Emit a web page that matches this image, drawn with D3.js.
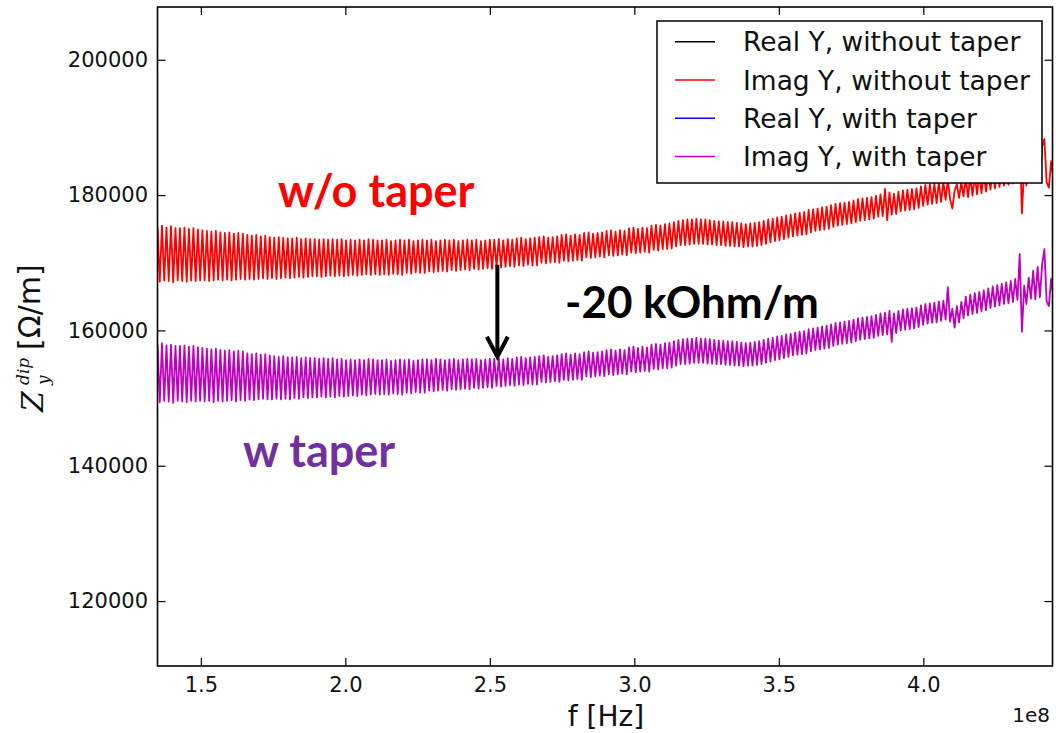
<!DOCTYPE html>
<html>
<head>
<meta charset="utf-8">
<script src="https://cdn.jsdelivr.net/npm/d3@7"></script>
<style>
  body { margin: 0; background: #fff; }
  svg { display: block; }
</style>
</head>
<body>
<svg id="chart" width="1056" height="733"></svg>
<script>
// ---- data -------------------------------------------------------------
// frequency sweep (Hz), evenly sampled
const fStart = 1.35e8;
const fEnd = 4.45e8;

// Imaginary part of the dipolar vertical impedance, in kOhm/m
const imagNoTaper = [
  175.3,167.2,175.5,167.4,175.2,167.3,175.4,167.1,175.1,167.4,
  175.1,167.3,175.2,167.2,175.0,167.4,175.1,167.3,174.9,167.4,
  174.8,167.4,174.7,167.3,174.6,167.4,174.7,167.5,174.5,167.4,
  174.4,167.5,174.5,167.4,174.3,167.5,174.4,167.6,174.3,167.5,
  174.1,167.6,174.0,167.5,174.1,167.6,173.9,167.7,174.0,167.6,
  173.8,167.7,173.7,167.6,173.8,167.7,173.7,167.8,173.6,167.7,
  173.6,167.8,173.7,167.9,173.5,167.8,173.6,167.9,173.5,168.0,
  173.5,168.0,173.4,167.9,173.5,168.0,173.4,168.1,173.5,168.0,
  173.4,168.1,173.5,168.0,173.3,168.1,173.4,168.2,173.3,168.1,
  173.4,168.2,173.3,168.3,173.5,168.2,173.4,168.3,173.3,168.2,
  173.3,168.3,173.4,168.2,173.2,168.4,173.3,168.3,173.4,168.2,
  173.3,168.5,173.4,168.4,173.2,168.6,173.3,168.5,173.4,168.5,
  173.3,168.7,173.4,168.6,173.2,168.7,173.3,168.8,173.4,168.7,
  173.3,168.9,173.4,168.8,173.2,168.9,173.3,169.0,173.4,168.9,
  173.3,169.1,173.4,169.0,173.2,169.1,173.3,169.2,173.4,169.1,
  173.4,169.4,173.5,169.3,173.3,169.4,173.5,169.5,173.4,169.4,
  173.6,169.6,173.7,169.5,173.5,169.7,173.6,169.6,173.7,169.6,
  173.8,170.0,173.9,169.9,173.7,170.0,173.8,170.1,173.9,170.0,
  174.1,170.3,174.2,170.2,174.0,170.3,174.2,170.4,174.1,170.3,
  174.4,170.8,174.5,170.7,174.3,170.8,174.4,170.9,174.5,170.8,
  174.7,171.1,174.8,171.0,174.6,171.1,174.8,171.2,174.7,171.1,
  175.1,171.5,175.2,171.4,175.0,171.5,175.2,171.6,175.1,171.5,
  175.5,171.9,175.6,171.8,175.5,172.0,175.7,172.0,175.8,172.1,
  176.0,172.4,176.2,172.6,176.3,172.6,176.4,172.7,176.4,172.8,
  176.5,172.8,176.4,172.8,176.4,172.7,176.3,172.7,176.2,172.6,
  176.1,172.6,176.1,172.5,176.0,172.5,176.0,172.4,175.9,172.4,
  175.8,172.3,175.7,172.4,175.8,172.4,175.9,172.5,176.0,172.6,
  176.2,172.8,176.4,173.0,176.5,173.2,176.7,173.3,176.8,173.5,
  177.0,173.7,177.1,173.9,177.3,174.0,177.4,174.1,177.5,174.2,
  177.8,174.5,177.9,174.7,178.0,174.8,178.2,174.9,178.3,175.0,
  178.5,175.3,178.7,175.5,178.8,175.6,178.9,175.7,179.0,175.8,
  179.2,176.0,179.4,176.2,179.5,176.3,179.6,176.4,179.7,176.5,
  179.9,176.8,180.1,176.9,180.9,176.3,180.4,177.1,180.2,177.2,
  180.5,177.6,180.7,177.7,180.8,177.8,180.9,177.9,181.0,178.1,
  181.3,178.4,181.5,178.6,181.6,178.7,181.7,178.8,181.9,179.0,
  182.0,179.3,182.3,179.4,178.0,180.6,181.6,179.6,181.9,179.8,
  182.5,179.7,182.8,179.9,183.0,180.1,183.2,180.3,183.4,180.5,
  183.7,180.8,184.0,181.0,184.2,181.2,184.4,181.4,184.6,181.5,
  184.8,181.7,185.1,182.0,188.6,177.3,184.1,181.4,185.3,182.2,
  186.2,182.1,186.8,182.4,187.2,188.3,181.9,181.1,185.0,182.6
];

const imagWithTaper = [
  157.9,149.4,158.1,149.6,157.8,149.5,157.9,149.3,157.7,149.6,
  157.7,149.5,157.8,149.4,157.6,149.6,157.7,149.5,157.5,149.6,
  157.4,149.5,157.3,149.6,157.2,149.4,157.3,149.6,157.1,149.5,
  157.0,149.6,157.1,149.7,156.9,149.5,157.0,149.7,156.9,149.6,
  156.6,149.8,156.5,149.7,156.6,149.8,156.4,149.9,156.5,149.8,
  156.3,149.8,156.2,149.9,156.1,149.8,156.2,149.9,156.0,149.8,
  156.0,150.0,156.1,149.9,155.9,150.1,156.0,150.0,155.9,150.1,
  155.9,150.1,155.8,150.2,155.9,150.1,155.8,150.2,155.9,150.1,
  155.7,150.3,155.8,150.2,155.6,150.3,155.7,150.4,155.6,150.3,
  155.7,150.5,155.6,150.4,155.8,150.5,155.7,150.6,155.6,150.5,
  155.6,150.6,155.7,150.5,155.5,150.7,155.6,150.6,155.7,150.5,
  155.6,150.8,155.7,150.7,155.5,150.9,155.6,150.8,155.7,150.8,
  155.7,151.1,155.6,151.0,155.8,151.1,155.7,151.2,155.6,151.1,
  155.7,151.3,155.8,151.2,155.6,151.3,155.7,151.4,155.8,151.3,
  155.7,151.5,155.8,151.4,155.6,151.5,155.7,151.6,155.8,151.5,
  155.8,151.8,155.9,151.7,155.7,151.8,155.9,151.9,155.8,151.8,
  156.0,152.0,156.1,151.9,155.9,152.1,156.0,152.0,156.1,152.0,
  156.2,152.4,156.3,152.3,156.1,152.4,156.2,152.5,156.3,152.4,
  156.5,152.7,156.6,152.6,156.4,152.7,156.6,152.8,156.5,152.7,
  156.8,153.2,156.9,153.1,156.7,153.2,156.8,153.3,156.9,153.2,
  157.1,153.5,157.2,153.4,157.0,153.5,157.2,153.6,157.1,153.5,
  157.5,153.9,157.6,153.8,157.4,153.9,157.6,154.0,157.5,153.9,
  157.9,154.3,158.0,154.2,157.9,154.4,158.1,154.4,158.2,154.5,
  158.4,154.8,158.6,155.0,158.7,155.0,158.8,155.1,158.8,155.2,
  158.9,155.2,158.8,155.2,158.8,155.1,158.7,155.1,158.6,155.0,
  158.5,155.0,158.5,154.9,158.4,154.9,158.4,154.8,158.3,154.8,
  158.2,154.7,158.1,154.8,158.2,154.8,158.3,154.9,158.4,155.0,
  158.6,155.2,158.8,155.4,158.9,155.6,159.1,155.7,159.2,155.9,
  159.4,156.1,159.5,156.3,159.7,156.4,159.8,156.5,159.9,156.6,
  160.2,156.9,160.3,157.1,160.4,157.2,160.6,157.3,160.7,157.4,
  160.9,157.7,161.1,157.9,161.2,158.0,161.3,158.1,161.4,158.2,
  161.6,158.4,161.8,158.6,161.9,158.7,162.0,158.8,162.1,158.9,
  162.3,159.2,162.5,159.3,162.6,159.4,162.9,158.3,162.5,159.6,
  162.9,160.0,163.1,160.1,163.2,160.2,163.3,160.3,163.4,160.5,
  163.7,160.8,163.9,161.0,164.0,161.1,164.1,161.2,164.3,161.4,
  164.4,161.6,166.4,161.3,163.2,160.4,163.6,161.2,164.2,161.8,
  165.0,162.2,165.3,162.4,165.5,162.6,165.7,162.8,165.9,163.0,
  166.2,163.3,166.5,163.5,166.7,163.7,166.9,163.9,167.1,164.0,
  167.3,164.2,167.6,164.5,171.3,159.8,166.6,163.9,167.8,164.7,
  168.8,164.6,169.4,164.9,169.8,172.0,164.3,163.6,167.6,165.0
];

const xTicks = [1.5e8, 2.0e8, 2.5e8, 3.0e8, 3.5e8, 4.0e8];
const yTicks = [120000, 140000, 160000, 180000, 200000];
const xDomain = [1.35e8, 4.447e8];
const yDomain = [110400, 207800];

const legendLabels = [
  "Real Y, without taper",
  "Imag Y, without taper",
  "Real Y, with taper",
  "Imag Y, with taper"
];
const legendColors = ["#000000", "#ff0000", "#0000ff", "#bf00bf"];

// annotation: shift between the two curves
const shiftFreq = 2.526e8;
const shiftFrom = 169700;
const shiftTo = 156100;

// ---- layout -----------------------------------------------------------
const svg = d3.select("#chart");
const plot = { left: 157.5, right: 1052.5, top: 7, bottom: 666 };

const x = d3.scaleLinear().domain(xDomain).range([plot.left, plot.right]);
const y = d3.scaleLinear().domain(yDomain).range([plot.bottom, plot.top]);

const tickFont = "'DejaVu Sans', sans-serif";

svg.append("defs").append("clipPath").attr("id", "plot-clip")
  .append("rect")
  .attr("x", plot.left).attr("y", plot.top)
  .attr("width", plot.right - plot.left)
  .attr("height", plot.bottom - plot.top);

// ---- curves -----------------------------------------------------------
function series(values) {
  const n = values.length;
  const step = (fEnd - fStart) / (n - 1);
  return values.map((v, i) => ({ f: fStart + i * step, z: v * 1000 }));
}

const line = d3.line().x(d => x(d.f)).y(d => y(d.z));

const curves = svg.append("g").attr("clip-path", "url(#plot-clip)");
[
  { values: imagNoTaper, color: legendColors[1] },
  { values: imagWithTaper, color: legendColors[3] }
].forEach(s => {
  curves.append("path")
    .datum(series(s.values))
    .attr("d", line)
    .attr("fill", "none")
    .attr("stroke", s.color)
    .attr("stroke-width", 1.8)
    .attr("stroke-linejoin", "round");
});

// ---- axes -------------------------------------------------------------
function styleAxis(g) {
  g.select(".domain").remove();
  g.selectAll(".tick line").attr("stroke", "#000").attr("stroke-width", 1.2);
  g.selectAll(".tick text")
    .attr("fill", "#111")
    .style("font-family", tickFont)
    .style("font-size", "21px");
}

svg.append("g")
  .attr("transform", `translate(0,${plot.bottom})`)
  .call(d3.axisBottom(x).tickValues(xTicks).tickSize(-8).tickPadding(11)
    .tickFormat(d => (d / 1e8).toFixed(1)))
  .call(styleAxis);

svg.append("g")
  .attr("transform", `translate(0,${plot.top})`)
  .call(d3.axisTop(x).tickValues(xTicks).tickSize(-8).tickFormat(""))
  .call(styleAxis);

svg.append("g")
  .attr("transform", `translate(${plot.left},0)`)
  .call(d3.axisLeft(y).tickValues(yTicks).tickSize(-8).tickPadding(9.5)
    .tickFormat(d3.format("d")))
  .call(styleAxis);

svg.append("g")
  .attr("transform", `translate(${plot.right},0)`)
  .call(d3.axisRight(y).tickValues(yTicks).tickSize(-8).tickFormat(""))
  .call(styleAxis);

// frame
svg.append("rect")
  .attr("x", plot.left).attr("y", plot.top)
  .attr("width", plot.right - plot.left)
  .attr("height", plot.bottom - plot.top)
  .attr("fill", "none")
  .attr("stroke", "#000")
  .attr("stroke-width", 1.6);

// offset text of the x axis
svg.append("text")
  .attr("x", 1050).attr("y", 722)
  .attr("text-anchor", "end")
  .style("font-family", tickFont).style("font-size", "20px")
  .attr("fill", "#111")
  .text("1e8");

// axis labels
svg.append("text")
  .attr("x", 606).attr("y", 726)
  .attr("text-anchor", "middle")
  .style("font-family", tickFont).style("font-size", "28px")
  .attr("fill", "#111")
  .text("f [Hz]");

const yLab = svg.append("g").attr("transform", "translate(42,412) rotate(-90)");
yLab.append("text")
  .attr("x", 0).attr("y", 1)
  .style("font-family", "'DejaVu Serif', serif").style("font-style", "italic")
  .style("font-size", "30px").attr("fill", "#111")
  .text("Z");
yLab.append("text")
  .attr("x", 27).attr("y", -13)
  .style("font-family", "'DejaVu Serif', serif").style("font-style", "italic")
  .style("font-size", "17px").attr("fill", "#111")
  .text("dip");
yLab.append("text")
  .attr("x", 27).attr("y", 7)
  .style("font-family", "'DejaVu Serif', serif").style("font-style", "italic")
  .style("font-size", "17px").attr("fill", "#111")
  .text("y");
yLab.append("text")
  .attr("x", 62).attr("y", -2)
  .style("font-family", tickFont).style("font-size", "30px")
  .attr("fill", "#111")
  .text("[Ω/m]");

// ---- legend -----------------------------------------------------------
const legend = svg.append("g");
legend.append("rect")
  .attr("x", 657).attr("y", 21)
  .attr("width", 385).attr("height", 162)
  .attr("fill", "#fff").attr("stroke", "#000").attr("stroke-width", 1.5);

legendLabels.forEach((label, i) => {
  const cy = 41.7 + i * 38.3;
  legend.append("line")
    .attr("x1", 675).attr("x2", 715)
    .attr("y1", cy).attr("y2", cy)
    .attr("stroke", legendColors[i]).attr("stroke-width", 1.5);
  legend.append("text")
    .attr("x", 743).attr("y", cy)
    .attr("dy", "0.36em")
    .style("font-family", tickFont).style("font-size", "26.5px")
    .attr("fill", "#111")
    .text(label);
});

// ---- annotations ------------------------------------------------------
const noteFont = "Lato, 'Open Sans', sans-serif";

svg.append("text")
  .attr("x", x(1.767e8)).attr("y", y(178250))
  .style("font-family", noteFont).style("font-weight", "bold")
  .style("font-size", "45px").attr("fill", "#ff0000")
  .text("w/o taper");

svg.append("text")
  .attr("x", x(2.76e8)).attr("y", y(161840))
  .style("font-family", noteFont).style("font-weight", "bold")
  .style("font-size", "44px").attr("fill", "#000")
  .text("-20 kOhm/m");

svg.append("text")
  .attr("x", x(1.646e8)).attr("y", y(139816))
  .style("font-family", noteFont).style("font-weight", "bold")
  .style("font-size", "45px").attr("fill", "#7030a0")
  .text("w taper");

const ax = x(shiftFreq), ay0 = y(shiftFrom), ay1 = y(shiftTo);
svg.append("line")
  .attr("x1", ax).attr("x2", ax)
  .attr("y1", ay0).attr("y2", ay1 - 2)
  .attr("stroke", "#000").attr("stroke-width", 4);
svg.append("path")
  .attr("d", `M${ax - 10.5},${ay1 - 20} L${ax},${ay1} L${ax + 10.5},${ay1 - 20}`)
  .attr("fill", "none").attr("stroke", "#000")
  .attr("stroke-width", 4).attr("stroke-linejoin", "miter");
</script>
</body>
</html>
